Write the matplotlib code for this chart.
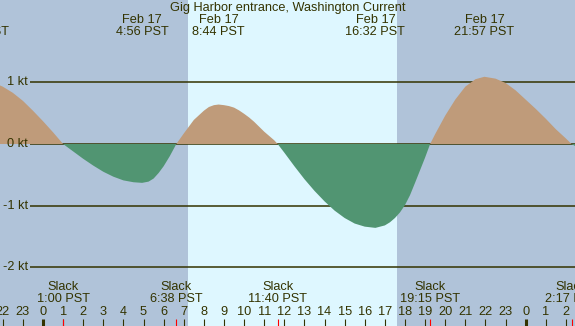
import matplotlib
matplotlib.use("Agg")
import matplotlib.pyplot as plt
import numpy as np

# current speed (hours from midnight Feb 17, knots)
hours = [-2.5, -2.0, -1.5, -1.0, -0.5, 0.0, 0.5, 1.0, 1.5, 2.0, 2.5, 3.0, 3.5,
         4.0, 4.5, 4.93, 5.25, 5.5, 5.75, 6.0, 6.3, 6.63, 7.0, 7.5, 8.0, 8.25,
         8.5, 8.73, 9.0, 9.25, 9.5, 9.75, 10.0, 10.25, 10.5, 11.0, 11.5, 11.67,
         12.0, 12.5, 13.0, 13.5, 14.0, 14.5, 15.0, 15.5, 16.0, 16.53, 17.0,
         17.25, 17.5, 17.75, 18.0, 18.25, 18.5, 19.0, 19.25, 19.5, 20.0, 20.5,
         21.0, 21.5, 21.95, 22.5, 23.0, 23.5, 24.0, 24.5, 25.0, 25.5, 26.0,
         26.28, 26.5]
speed = [1.00, 0.93, 0.83, 0.70, 0.54, 0.37, 0.19, 0.0, -0.12, -0.24, -0.35,
         -0.45, -0.53, -0.59, -0.62, -0.63, -0.61, -0.56, -0.47, -0.36, -0.20,
         0.0, 0.17, 0.39, 0.54, 0.60, 0.63, 0.64, 0.63, 0.615, 0.59, 0.545,
         0.49, 0.43, 0.36, 0.20, 0.06, 0.0, -0.14, -0.36, -0.57, -0.76, -0.93,
         -1.08, -1.20, -1.29, -1.34, -1.36, -1.32, -1.27, -1.20, -1.11, -0.99,
         -0.83, -0.63, -0.22, 0.0, 0.16, 0.46, 0.72, 0.93, 1.05, 1.09, 1.06,
         0.99, 0.87, 0.72, 0.57, 0.41, 0.24, 0.09, 0.0, -0.04]

max_times = [-3.18, 4.93, 8.73, 16.53, 21.95]
max_dates = ["Feb 16", "Feb 17", "Feb 17", "Feb 17", "Feb 17"]
max_labels = ["20:49 PST", "4:56 PST", "8:44 PST", "16:32 PST", "21:57 PST"]

slack_times = [1.0, 6.63, 11.67, 19.25, 26.28]
slack_labels = ["1:00 PST", "6:38 PST", "11:40 PST", "19:15 PST", "2:17 PST"]

sunrise, sunset = 7.19, 17.62
kt_levels = [1, 0, -1, -2]
kt_labels = ["1 kt", "0 kt", "-1 kt", "-2 kt"]
tick_hours = list(range(-2, 27))

night = "#b0c3d9"
day = "#def7ff"
flood = "#bf9b7a"
ebb = "#519572"
ink = "#333300"

plt.rcParams["font.family"] = ["Liberation Sans", "DejaVu Sans"]
fs = 9.2

fig = plt.figure(figsize=(5.75, 3.26), dpi=100)
ax = fig.add_axes([0, 0, 1, 1])
ax.set_xlim(-2.138, 26.454)
ax.set_ylim(-2.951, 2.335)
ax.axis("off")
ax.set_facecolor(night)
fig.patch.set_facecolor(night)
ax.axvspan(sunrise, sunset, color=day, zorder=0, lw=0)

h = np.array(hours)
s = np.array(speed)
ax.hlines(kt_levels, 30 / 575, 1, transform=ax.get_yaxis_transform(),
          color=ink, lw=1.1, zorder=1)
ax.fill_between(h, s, 0, where=s >= 0, interpolate=True, color=flood, lw=0, zorder=2)
ax.fill_between(h, s, 0, where=s <= 0, interpolate=True, color=ebb, lw=0, zorder=2)

for lev, lab in zip(kt_levels, kt_labels):
    ax.text(28 / 575, lev, lab, transform=ax.get_yaxis_transform(),
            ha="right", va="center", fontsize=fs, color=ink, zorder=3)

ax.text(0.5, 2.21, "Gig Harbor entrance, Washington Current", ha="center",
        va="center", fontsize=fs, color=ink, transform=ax.get_yaxis_transform())
for t, d, lab in zip(max_times, max_dates, max_labels):
    ax.text(t, 2.015, d, ha="center", va="center", fontsize=fs, color=ink)
    ax.text(t, 1.82, lab, ha="center", va="center", fontsize=fs, color=ink)

for t, lab in zip(slack_times, slack_labels):
    ax.text(t, -2.32, "Slack", ha="center", va="center", fontsize=fs, color=ink)
    ax.text(t, -2.52, lab, ha="center", va="center", fontsize=fs, color=ink)

for hr in tick_hours:
    ax.text(hr, -2.716, str(hr % 24), ha="center", va="center", fontsize=fs, color=ink)
    wide = hr % 24 == 0
    ax.vlines(hr, -2.951, -2.838, color=ink, lw=2.2 if wide else 0.8, zorder=3)
ax.vlines(slack_times, -2.951, -2.838, color="red", lw=0.8, zorder=4)

fig.savefig("out.png", dpi=100, facecolor=night)
